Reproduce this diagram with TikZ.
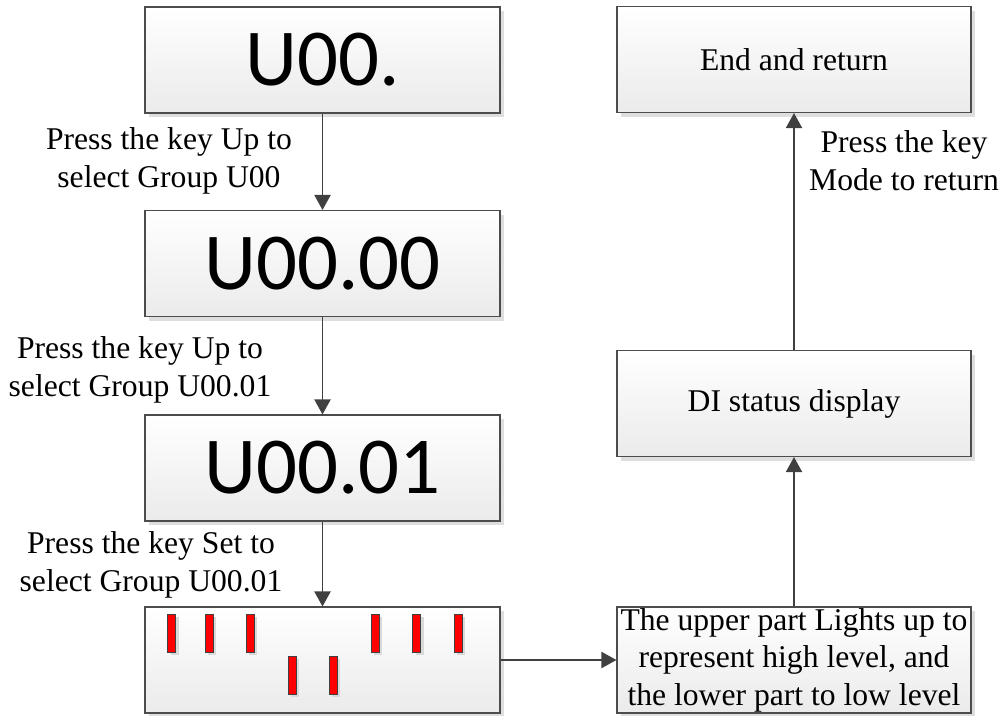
\documentclass[tikz,border=0pt]{standalone}
\usepackage{fontspec}
\setmainfont{Liberation Serif}
\newfontfamily\lcdfont{Carlito}
\usetikzlibrary{arrows.meta,shadows}
\tikzset{
  stage/.style={draw=black!70, line width=0.6pt, top color=white, bottom color=black!8,
    drop shadow={shadow xshift=0.8mm, shadow yshift=-0.8mm, fill=black!13, opacity=1},
    minimum width=7.1cm, minimum height=2.12cm, inner sep=0pt, align=center,
    font=\fontsize{18}{21.4}\selectfont},
  lcd/.style={stage, font=\lcdfont\fontsize{46}{50}\selectfont},
  note/.style={align=center, inner sep=0pt, font=\fontsize{18}{21.6}\selectfont},
  led/.style={draw=black!75, line width=0.4pt, fill=red, inner sep=0pt,
    minimum width=1.6mm, minimum height=7.6mm,
    drop shadow={shadow xshift=0.6mm, shadow yshift=-0.6mm, fill=black!15, opacity=1}},
  flow/.style={draw=black!75, line width=1.1pt, -{Triangle[length=3mm,width=3.2mm]}}
}

\begin{document}
\begin{tikzpicture}[x=0.2mm, y=-0.2mm]
    \useasboundingbox (0,0) rectangle (1005,715);

    % left column: keypad display
    \node[lcd] (u0) at (322.5,60) {U00.};
    \node[lcd] (u00) at (322.5,263.5) {U00.00};
    \node[lcd] (u01) at (322.5,468) {U00.01};
    \node[stage] (bars) at (322.5,660) {};

    % DI segments, upper ones lit = high, lower ones = low
    \foreach \x/\y [count=\i] in {171.5/633, 209.2/633, 250.3/633, 292.2/675,
                                  333.3/675, 375.2/633, 416.5/633, 458.2/633}
      \node[led] (led\i) at (\x,\y) {};

    % right column
    \node[stage, minimum width=7.08cm] (endret) at (794,59.5) {End and return};
    \node[stage, minimum width=7.08cm] (di) at (794,403.5) {DI status display};
    \node[stage, minimum width=7.08cm] (level) at (794,660)
      {The upper part Lights up to\\represent high level, and\\the lower part to low level};

    \draw[flow] (u0) -- (u00);
    \draw[flow] (u00) -- (u01);
    \draw[flow] (u01) -- (bars);
    \draw[flow] (bars) -- (level);
    \draw[flow] (level) -- (di);
    \draw[flow] (di) -- (endret);

    \node[note] (up1) at (169,161) {Press the key Up to\\select Group U00};
    \node[note] (up2) at (140,370) {Press the key Up to\\select Group U00.01};
    \node[note] (set) at (151,565) {Press the key Set to\\select Group U00.01};
    \node[note] (mode) at (904,161) {Press the key\\Mode to return};
\end{tikzpicture}
\end{document}
